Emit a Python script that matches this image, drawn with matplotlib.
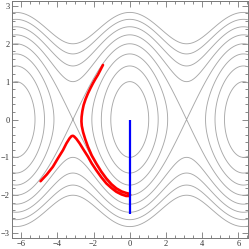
import numpy as np
import matplotlib
matplotlib.use("Agg")
import matplotlib.pyplot as plt
from matplotlib.ticker import MultipleLocator

# contour levels of H = p^2/2 - cos(q)
levels = [-0.5, 0.0, 0.5, 1.0, 1.5, 2.0, 2.5, 3.0]

# red evolved curve
red_q = [-1.48, -1.62, -1.76, -1.90, -2.03, -2.17, -2.31, -2.44, -2.55, -2.62, -2.66,
         -2.67, -2.65, -2.58, -2.46, -2.31, -2.10, -1.85, -1.58, -1.29, -1.01, -0.74,
         -0.45, -0.20, -0.03, 0.02, -0.03, -0.20, -0.45, -0.74, -1.01, -1.29, -1.58,
         -1.85, -2.10, -2.31, -2.55, -2.77, -2.95, -3.07, -3.14, -3.22, -3.33, -3.50,
         -3.69, -3.95, -4.25, -4.58, -4.93]
red_p = [1.44, 1.31, 1.18, 1.07, 0.96, 0.83, 0.69, 0.54, 0.38, 0.22, 0.07,
         -0.05, -0.17, -0.33, -0.52, -0.72, -0.95, -1.16, -1.37, -1.56, -1.71, -1.82,
         -1.90, -1.94, -1.96, -1.99, -2.02, -2.02, -1.98, -1.91, -1.81, -1.69, -1.52,
         -1.34, -1.16, -0.98, -0.80, -0.63, -0.51, -0.45, -0.43, -0.44, -0.50, -0.63,
         -0.81, -1.01, -1.25, -1.45, -1.63]

# blue initial segment
blue_q = [0.0, 0.0]
blue_p = [0.0, -2.5]

xticks = [-6, -4, -2, 0, 2, 4, 6]
yticks = [-3, -2, -1, 0, 1, 2, 3]

fig = plt.figure(figsize=(2.49, 2.49), dpi=100)
ax = fig.add_axes([11.5/249, 11/249, 236.5/249, 237/249])

q = np.linspace(-7, 7, 700)
p = np.linspace(-3.5, 3.5, 400)
Q, P = np.meshgrid(q, p)
H = P**2 / 2 - np.cos(Q)
ax.contour(Q, P, H, levels=levels, colors='#a8a8a8', linewidths=0.65,
           linestyles='solid')

ax.plot(red_q, red_p, color='#ff0000', lw=1.9, solid_joinstyle='round', solid_capstyle='round')
ax.plot(blue_q, blue_p, color='#0000ff', lw=1.6, solid_capstyle='butt')

ax.set_xlim(-6.535, 6.535)
ax.set_ylim(-3.13, 3.13)
ax.set_xticks(xticks)
ax.set_yticks(yticks)
ax.set_xticklabels(['\u2212' + str(-t) if t < 0 else str(t) for t in xticks])
ax.set_yticklabels(['\u2212' + str(-t) if t < 0 else str(t) for t in yticks])
ax.xaxis.set_minor_locator(MultipleLocator(0.5))
ax.yaxis.set_minor_locator(MultipleLocator(0.2))
ax.tick_params(which='both', direction='in', top=True, right=True, colors='#777777',
               labelcolor='#333333', labelsize=6, width=0.6, pad=1.5)
ax.tick_params(which='major', length=4)
ax.tick_params(which='minor', length=2)
for lab in ax.get_xticklabels() + ax.get_yticklabels():
    lab.set_fontfamily('Liberation Serif')
for s in ax.spines.values():
    s.set_color('#777777')
    s.set_linewidth(0.7)

fig.savefig('out.png', dpi=100)
